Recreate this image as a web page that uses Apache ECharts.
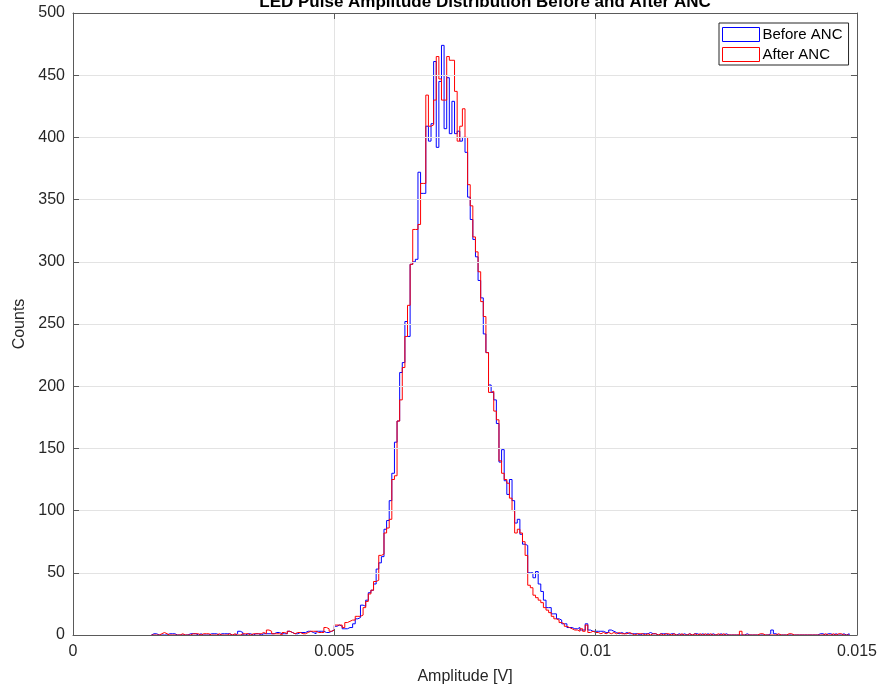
<!DOCTYPE html>
<html>
<head>
<meta charset="utf-8">
<script src="https://cdn.jsdelivr.net/npm/echarts@6/dist/echarts.min.js"></script>
<style>
html,body{margin:0;padding:0;background:#fff;}
#chart{width:883px;height:690px;}
</style>
</head>
<body>
<div id="chart"></div>
<script>
// ---- data ----
const titleText = 'LED Pulse Amplitude Distribution Before and After ANC';
const seriesNames = ['Before ANC', 'After ANC'];
const binStart = 0.0015;   // left edge of first bin [V]
const binWidth = 0.00005;  // bin width [V]
const xTickValues = [0, 0.005, 0.01, 0.015];
const yTickValues = [0, 50, 100, 150, 200, 250, 300, 350, 400, 450, 500];

const countsBefore = [
  1,1,0,0,0,0,1,1,1,0,
  0,0,0,0,1,1,1,0,1,0,
  0,0,1,1,1,0,1,1,1,1,
  0,0,1,3,2,0,1,1,0,1,
  1,0,1,1,1,1,1,2,2,1,
  1,1,3,2,1,1,2,2,2,3,
  3,2,1,3,3,3,2,2,3,4,
  7,8,7,5,5,6,6,9,13,14,
  24,23,28,34,36,41,53,58,63,85,
  92,108,130,155,172,211,219,252,240,298,
  300,302,372,355,355,409,397,411,461,392,
  445,474,407,448,403,429,403,405,397,400,
  388,352,334,318,304,285,271,242,227,201,
  195,189,170,139,149,124,113,125,108,90,
  93,81,73,72,50,50,46,51,41,35,
  28,22,22,17,17,13,12,9,9,6,
  6,5,5,6,4,4,9,4,3,3,
  3,3,3,2,2,4,3,2,1,2,
  1,2,1,1,1,1,0,1,1,1,
  2,1,1,0,1,1,1,0,1,1,
  0,1,0,1,0,1,0,1,1,0,
  1,0,1,0,1,0,0,1,0,1,
  0,0,0,0,0,0,0,1,0,0,
  0,0,0,0,0,0,1,4,1,0,
  0,0,0,0,0,0,0,0,0,0,
  0,0,0,0,0,1,1,0,1,1,
  0,1,0,0,1,0,1
];
const countsAfter = [
  0,0,0,1,2,1,0,0,0,0,
  0,1,0,0,0,1,1,1,0,1,
  1,1,0,0,0,1,0,0,0,1,
  0,1,0,0,1,1,1,0,1,1,
  1,1,2,1,4,3,1,1,1,0,
  2,1,3,2,1,2,2,1,1,2,
  3,3,3,2,2,2,6,5,3,4,
  8,8,8,6,10,11,12,12,15,15,
  16,22,27,33,36,43,44,64,65,82,
  86,93,125,128,172,189,215,240,265,298,
  326,326,330,363,363,434,409,410,430,465,
  447,430,430,465,462,462,437,397,409,423,
  400,362,345,320,308,292,268,256,227,195,
  196,180,173,140,130,125,122,110,100,82,
  85,82,75,64,40,38,32,30,28,26,
  22,20,18,15,13,12,10,9,7,6,
  5,4,4,3,5,3,8,2,3,2,
  2,1,2,1,2,1,2,1,2,1,
  1,1,2,1,0,1,1,1,0,1,
  0,1,1,0,1,0,1,1,0,1,
  0,0,1,0,0,1,0,1,0,1,
  0,1,0,1,0,0,1,0,1,0,
  0,0,0,0,0,3,0,0,0,0,
  0,0,1,1,0,0,0,0,0,1,
  0,0,0,1,1,0,0,0,0,0,
  0,0,0,0,0,0,0,1,0,0,
  1,0,1,1,0,0,0
];

// ---- build stairs outline from bins ----
function edge(i){ return +(binStart + i*binWidth).toFixed(7); }
function stairs(counts){
  const pts = [[edge(0), 0]];
  counts.forEach((c, i) => pts.push([edge(i), c]));
  const n = counts.length;
  pts.push([edge(n), counts[n-1]]);
  pts.push([edge(n), 0]);
  return pts;
}

const FONT = 'Liberation Sans, Arial, Helvetica, sans-serif';
const AX = '#5a5a5a';
const TXT = '#262626';
const GRIDC = '#e3e3e3';
const xMin = xTickValues[0], xMax = xTickValues[xTickValues.length-1], xStep = xTickValues[1]-xTickValues[0];
const yMin = yTickValues[0], yMax = yTickValues[yTickValues.length-1], yStep = yTickValues[1]-yTickValues[0];

const chart = echarts.init(document.getElementById('chart'), null, {renderer:'canvas'});
const baseX = {type:'value', min:xMin, max:xMax, interval:xStep};
const baseY = {type:'value', min:yMin, max:yMax, interval:yStep};
const line = {show:true, onZero:false, lineStyle:{color:AX, width:1}};
const tick = {show:true, inside:true, length:6, lineStyle:{color:AX, width:1}};
chart.setOption({
  animation:false,
  backgroundColor:'#fff',
  grid:{left:73, right:26, top:13, bottom:54, show:false, containLabel:false},
  graphic:[{
    type:'text', x:485, y:11,
    style:{text:titleText, font:'bold 17px ' + FONT, fill:'#000', textAlign:'center', textVerticalAlign:'bottom'}
  }],
  legend:{
    left:719, top:23, orient:'vertical',
    padding:[4,6,3,3], itemGap:5, itemWidth:37, itemHeight:14,
    backgroundColor:'#fff', borderColor:TXT, borderWidth:1, borderRadius:0,
    textStyle:{fontFamily:FONT, fontSize:15, color:'#000', padding:[0,0,0,-2]},
    selectedMode:false,
    data:[
      {name:seriesNames[0], icon:'rect', itemStyle:{color:'rgba(0,0,0,0)', borderColor:'#0000ff', borderWidth:1}},
      {name:seriesNames[1], icon:'rect', itemStyle:{color:'rgba(0,0,0,0)', borderColor:'#ff0000', borderWidth:1}}
    ]
  },
  xAxis:[
    Object.assign({}, baseX, {
      position:'bottom', z:5,
      name:'Amplitude [V]', nameLocation:'middle', nameGap:34,
      nameTextStyle:{fontFamily:FONT, fontSize:16, color:TXT},
      axisLine:line, axisTick:tick,
      axisLabel:{show:true, fontFamily:FONT, fontSize:16, color:TXT, margin:9},
      splitLine:{show:true, lineStyle:{color:GRIDC, width:1}}
    }),
    Object.assign({}, baseX, {
      position:'top', z:5,
      axisLine:line, axisTick:tick,
      axisLabel:{show:false}, splitLine:{show:false}
    })
  ],
  yAxis:[
    Object.assign({}, baseY, {
      position:'left', z:5,
      name:'Counts', nameLocation:'middle', nameGap:40,
      nameTextStyle:{fontFamily:FONT, fontSize:16, color:TXT},
      axisLine:line, axisTick:tick,
      axisLabel:{show:true, fontFamily:FONT, fontSize:16, color:TXT, margin:8},
      splitLine:{show:true, lineStyle:{color:GRIDC, width:1}}
    }),
    Object.assign({}, baseY, {
      position:'right', z:5,
      axisLine:line, axisTick:tick,
      axisLabel:{show:false}, splitLine:{show:false}
    })
  ],
  series:[
    {name:seriesNames[0], type:'line', step:'end', data:stairs(countsBefore),
     showSymbol:false, symbol:'none', lineStyle:{color:'#0000ff', width:1}, itemStyle:{color:'#0000ff'}, z:2},
    {name:seriesNames[1], type:'line', step:'end', data:stairs(countsAfter),
     showSymbol:false, symbol:'none', lineStyle:{color:'#ff0000', width:1}, itemStyle:{color:'#ff0000'}, z:2}
  ]
});
</script>
</body>
</html>
